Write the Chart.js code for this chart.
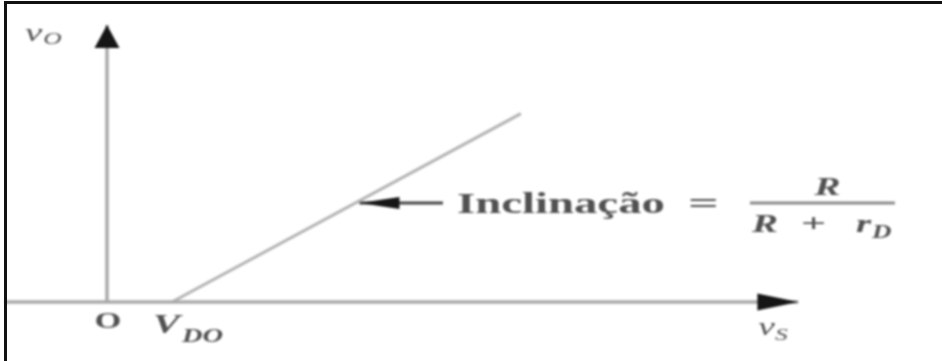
<!DOCTYPE html>
<html>
<head>
<meta charset="utf-8">
<script src="https://cdn.jsdelivr.net/npm/chart.js@4/dist/chart.umd.min.js"></script>
<style>
html, body { margin: 0; padding: 0; background: #fff; }
#wrap { position: relative; width: 942px; height: 361px; overflow: hidden; }
#frame { position: absolute; left: 4px; top: 1px; right: -10px; bottom: -10px; border-top: 3px solid #111; border-left: 3px solid #111; }
canvas { position: absolute; left: 0; top: 0; filter: blur(0.9px); }
</style>
</head>
<body>
<div id="wrap"><canvas id="chart" width="942" height="361"></canvas><div id="frame"></div></div>
<script>
// vO(vS) with the diode modelled as V_D0 + r_D
var vS = [0.7, 4.46];
var vO = [0, 2.03];
// axes
var xAxisS = [-1.1, 7.45];
var xAxisO = [0, 0];
var yAxisS = [0, 0];
var yAxisO = [0, 2.985];
// pointer to the slope (tail -> tip)
var ptrS = [3.62, 2.72];
var ptrO = [1.067, 1.067];
// tick labels on the vS axis
var tickValues = [0, 0.7];

function pts(xs, ys) {
    return xs.map(function (x, i) { return { x: x, y: ys[i] }; });
}

var SERIF = '"Liberation Serif", "DejaVu Serif", serif';
var TXT = '#515151';

// draws text stretched horizontally, returns drawn width
function txt(ctx, s, x, y, font, align, stretch) {
    var k = stretch || 1.5;
    ctx.save();
    ctx.font = font;
    ctx.fillStyle = TXT;
    ctx.textAlign = align || 'left';
    ctx.textBaseline = 'alphabetic';
    ctx.translate(x, y);
    ctx.scale(k, 1);
    ctx.fillText(s, 0, 0);
    var w = ctx.measureText(s).width * k;
    ctx.restore();
    return w;
}

function head(ctx, tail, tip, len, half, color) {
    var dx = tip[0] - tail[0], dy = tip[1] - tail[1];
    var d = Math.sqrt(dx * dx + dy * dy);
    var ux = dx / d, uy = dy / d;
    var bx = tip[0] - ux * len, by = tip[1] - uy * len;
    ctx.beginPath();
    ctx.moveTo(tip[0], tip[1]);
    ctx.lineTo(bx - uy * half, by + ux * half);
    ctx.lineTo(bx + uy * half, by - ux * half);
    ctx.closePath();
    ctx.fillStyle = color;
    ctx.fill();
}

var decor = {
    id: 'decor',
    afterDatasetsDraw: function (chart) {
        var ctx = chart.ctx;
        var sx = chart.scales.x, sy = chart.scales.y;
        var px = function (x, y) { return [sx.getPixelForValue(x), sy.getPixelForValue(y)]; };

        // arrow heads at the last point of flagged datasets
        chart.data.datasets.forEach(function (ds) {
            if (!ds.arrow) return;
            var n = ds.data.length;
            var a = px(ds.data[n - 2].x, ds.data[n - 2].y);
            var b = px(ds.data[n - 1].x, ds.data[n - 1].y);
            head(ctx, a, b, ds.arrow.len, ds.arrow.half, ds.arrow.color);
        });

        // axis names
        var yTip = px(yAxisS[1], yAxisO[1]);
        var w = txt(ctx, 'v', yTip[0] - 82, yTip[1] + 16, 'italic 26px ' + SERIF);
        txt(ctx, 'O', yTip[0] - 82 + w + 1, yTip[1] + 19, 'italic 17px ' + SERIF);

        var xTip = px(xAxisS[1], xAxisO[1]);
        w = txt(ctx, 'v', xTip[0] - 40, xTip[1] + 33, 'italic 25px ' + SERIF);
        txt(ctx, 'S', xTip[0] - 40 + w, xTip[1] + 38, 'italic 17px ' + SERIF);

        // tick labels
        var t0 = px(tickValues[0], 0);
        txt(ctx, 'O', t0[0] + 1, t0[1] + 26, 'bold 23px ' + SERIF, 'center');
        var t1 = px(tickValues[1], 0);
        w = txt(ctx, 'V', t1[0] - 19, t1[1] + 31, 'italic bold 27px ' + SERIF);
        txt(ctx, 'DO', t1[0] - 19 + w + 2, t1[1] + 40, 'italic bold 19px ' + SERIF);

        // slope annotation
        var tail = px(ptrS[0], ptrO[0]);
        var x0 = tail[0] + 14, base = tail[1] + 10;
        txt(ctx, 'Inclinação', x0, base, 'bold 30px ' + SERIF, 'left', 1.56);
        txt(ctx, '=', x0 + 231, base, 'bold 30px ' + SERIF, 'left', 1.8);

        var fx0 = x0 + 293, fx1 = x0 + 438;
        ctx.save();
        ctx.strokeStyle = '#8a8a8a';
        ctx.lineWidth = 3;
        ctx.beginPath();
        ctx.moveTo(fx0, tail[1]);
        ctx.lineTo(fx1, tail[1]);
        ctx.stroke();
        ctx.restore();

        txt(ctx, 'R', (fx0 + fx1) / 2 + 5, base - 18, 'italic bold 26px ' + SERIF, 'center');
        txt(ctx, 'R', fx0 + 2, base + 19, 'italic bold 26px ' + SERIF);
        txt(ctx, '+', fx0 + 51, base + 19, 'bold 26px ' + SERIF, 'left', 1.7);
        w = txt(ctx, 'r', fx0 + 106, base + 19, 'italic bold 26px ' + SERIF);
        txt(ctx, 'D', fx0 + 106 + w + 1, base + 25, 'italic bold 18px ' + SERIF);
    }
};

new Chart(document.getElementById('chart').getContext('2d'), {
    type: 'scatter',
    data: {
        datasets: [
            {
                label: 'x axis',
                data: pts(xAxisS, xAxisO),
                showLine: true,
                borderColor: '#a9a9a9',
                borderWidth: 3.5,
                pointRadius: 0,
                arrow: { len: 41, half: 8.5, color: '#151515' }
            },
            {
                label: 'y axis',
                data: pts(yAxisS, yAxisO),
                showLine: true,
                borderColor: '#a9a9a9',
                borderWidth: 3.5,
                pointRadius: 0,
                arrow: { len: 23, half: 12.5, color: '#151515' }
            },
            {
                label: 'vO',
                data: pts(vS, vO),
                showLine: true,
                borderColor: '#b3b3b3',
                borderWidth: 3,
                pointRadius: 0
            },
            {
                label: 'slope pointer',
                data: pts(ptrS, ptrO),
                showLine: true,
                borderColor: '#454545',
                borderWidth: 3,
                pointRadius: 0,
                arrow: { len: 40, half: 6, color: '#151515' }
            }
        ]
    },
    options: {
        responsive: false,
        animation: false,
        events: [],
        layout: { padding: 0 },
        plugins: { legend: { display: false }, tooltip: { enabled: false } },
        scales: {
            x: { type: 'linear', min: -1.153, max: 8.998, display: false },
            y: { type: 'linear', min: -0.636, max: 3.254, display: false }
        }
    },
    plugins: [decor]
});
</script>
</body>
</html>
